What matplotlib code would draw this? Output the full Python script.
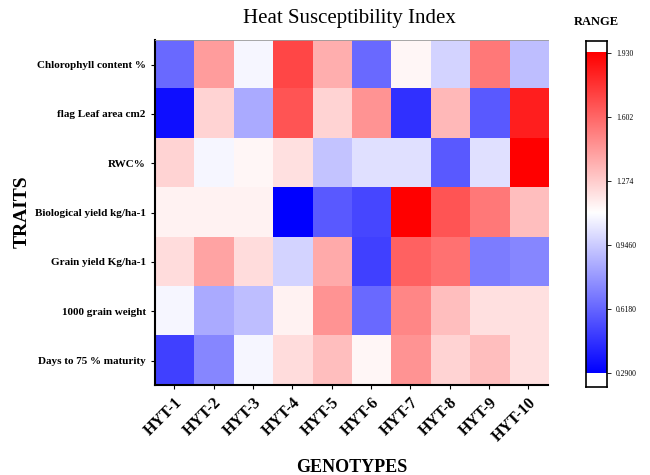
import numpy as np
import matplotlib
matplotlib.use("Agg")
import matplotlib.pyplot as plt
from matplotlib.colors import LinearSegmentedColormap

traits = ["Chlorophyll content %", "flag Leaf area cm2", "RWC%",
          "Biological yield kg/ha-1", "Grain yield Kg/ha-1",
          "1000 grain weight", "Days to 75 % maturity"]
genotypes = ["HYT-1", "HYT-2", "HYT-3", "HYT-4", "HYT-5",
             "HYT-6", "HYT-7", "HYT-8", "HYT-9", "HYT-10"]

chlorophyll = [0.63, 1.43, 1.08, 1.70, 1.37, 0.63, 1.14, 0.97, 1.54, 0.90]
flag_leaf   = [0.34, 1.25, 0.84, 1.66, 1.25, 1.45, 0.45, 1.34, 0.58, 1.83]
rwc         = [1.25, 1.08, 1.14, 1.21, 0.92, 1.01, 1.01, 0.58, 1.01, 1.93]
bio_yield   = [1.15, 1.15, 1.15, 0.29, 0.58, 0.52, 1.93, 1.66, 1.54, 1.32]
grain_yield = [1.22, 1.40, 1.22, 0.97, 1.38, 0.50, 1.61, 1.56, 0.69, 0.72]
grain_wt    = [1.08, 0.84, 0.90, 1.15, 1.45, 0.63, 1.50, 1.32, 1.21, 1.21]
maturity    = [0.50, 0.72, 1.08, 1.22, 1.32, 1.14, 1.45, 1.25, 1.32, 1.21]

cbar_ticks = [0.29, 0.618, 0.946, 1.274, 1.602, 1.930]
cbar_labels = ["0.2900", "0.6180", "0.9460", "1.274", "1.602", "1.930"]
vmin, vmax = 0.29, 1.93

data = np.array([chlorophyll, flag_leaf, rwc, bio_yield, grain_yield, grain_wt, maturity])

cmap = LinearSegmentedColormap.from_list("bwr2", ["#0000ff", "#ffffff", "#ff0000"], N=256)

serif = ["Liberation Serif", "DejaVu Serif"]

fig = plt.figure(figsize=(6.5, 4.75), dpi=100)
ax = fig.add_axes([0.238, 0.189, 0.605, 0.727])
ax.imshow(data, cmap=cmap, vmin=vmin, vmax=vmax, aspect="auto", interpolation="nearest")
ax.set_xticks(range(len(genotypes)))
ax.set_xticklabels(genotypes, rotation=45, ha="right", va="top", rotation_mode="anchor",
                   fontfamily=serif, fontweight="bold", fontsize=11.5)
ax.set_yticks(range(len(traits)))
ax.set_yticklabels(traits, fontfamily=serif, fontweight="bold", fontsize=8)
ax.tick_params(axis="both", length=3, width=0.8, color="black")
ax.tick_params(axis="x", pad=4)
for s in ["left", "bottom"]:
    ax.spines[s].set_linewidth(1.5)
ax.spines["right"].set_visible(False)
ax.spines["top"].set_linewidth(0.6)
ax.spines["top"].set_color("#999999")
ax.set_xlabel("GENOTYPES", fontfamily=serif, fontweight="bold", fontsize=13, labelpad=10)
fig.text(22 / 650, 1 - 212 / 475, "TRAITS", rotation=90, ha="center", va="center",
         fontfamily=serif, fontweight="bold", fontsize=14)

fig.text(0.538, 0.962, "Heat Susceptibility Index", ha="center", va="center",
         fontfamily=serif, fontsize=15)

# colorbar
cax = fig.add_axes([0.902, 0.185, 0.032, 0.729])
grad = np.linspace(vmin, vmax, 256).reshape(-1, 1)
pad = (vmax - vmin) * 0.037
cax.imshow(grad, cmap=cmap, vmin=vmin, vmax=vmax, aspect="auto", origin="lower",
           extent=[0, 1, vmin, vmax])
cax.set_ylim(vmin - pad * 1.2, vmax + pad)
cax.set_xlim(0, 1)
cax.set_xticks([])
cax.yaxis.tick_right()
cax.set_yticks(cbar_ticks)
cax.set_yticklabels(cbar_labels, fontfamily=serif, fontsize=5.5)
cax.tick_params(axis="y", length=3, width=0.6)
for s in cax.spines.values():
    s.set_linewidth(1.2)
fig.text(0.918, 0.953, "RANGE", ha="center", va="center", fontfamily=serif,
         fontweight="bold", fontsize=9)

fig.savefig("out.png", dpi=100)
